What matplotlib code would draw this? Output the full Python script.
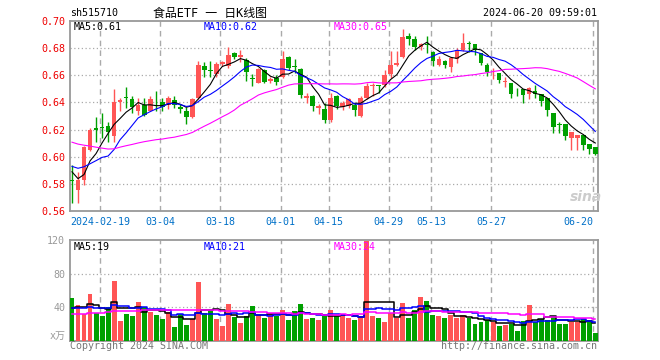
import numpy as np
import matplotlib
matplotlib.use("Agg")
import matplotlib.pyplot as plt

plt.rcParams['font.family'] = ['DejaVu Sans Mono', 'Noto Sans CJK SC']

# closes / volumes of the 29 days before the first candle, read back from the MA lines
close_before = [0.625, 0.631, 0.640, 0.644, 0.642, 0.638, 0.635, 0.605, 0.612, 0.608,
                0.606, 0.603, 0.620, 0.618, 0.623, 0.620, 0.620, 0.605, 0.600, 0.598,
                0.597, 0.596, 0.598, 0.597, 0.597, 0.608, 0.592, 0.570, 0.593]
vol_before = [25, 27, 30, 24, 26, 29, 31, 27, 25, 28, 30, 26, 27, 29, 32, 28, 26, 30, 29, 27,
              36, 40, 38, 42, 38, 33, 36, 38, 35]

opens = [0.583, 0.576, 0.583, 0.605, 0.621, 0.6215, 0.623, 0.615, 0.640, 0.6435,
         0.6427, 0.634, 0.638, 0.634, 0.6405, 0.6405, 0.638, 0.642, 0.6365, 0.634,
         0.629, 0.643, 0.6666, 0.6632, 0.661, 0.668, 0.667, 0.6766, 0.673, 0.671,
         0.658, 0.6545, 0.664, 0.6555, 0.6578, 0.659, 0.673, 0.6665, 0.6646, 0.6434,
         0.6446, 0.636, 0.6348, 0.6268, 0.6446, 0.6366, 0.6373, 0.638, 0.630, 0.6434,
         0.6519, 0.6527, 0.6531, 0.6605, 0.6678, 0.6734, 0.6885, 0.6866, 0.6805, 0.6827,
         0.6771, 0.6678, 0.6707, 0.6661, 0.6722, 0.6788, 0.6832, 0.6829, 0.6761, 0.6673,
         0.6628, 0.6617, 0.6553, 0.6544, 0.6461, 0.650, 0.6458, 0.6483, 0.6458, 0.6434,
         0.6324, 0.6236, 0.6239, 0.6141, 0.6136, 0.6161, 0.6097, 0.6075]
highs = [0.594, 0.589, 0.608, 0.621, 0.629, 0.632, 0.6256, 0.650, 0.643, 0.651,
         0.645, 0.643, 0.643, 0.645, 0.648, 0.643, 0.645, 0.645, 0.639, 0.6365,
         0.643, 0.6705, 0.670, 0.6705, 0.670, 0.6705, 0.681, 0.677, 0.6785, 0.6725,
         0.661, 0.6655, 0.6647, 0.659, 0.660, 0.6776, 0.674, 0.6722, 0.6653, 0.647,
         0.6453, 0.639, 0.6397, 0.647, 0.6453, 0.641, 0.6434, 0.6397, 0.6446, 0.6541,
         0.6544, 0.6531, 0.6641, 0.6776, 0.6776, 0.6939, 0.691, 0.6885, 0.6837, 0.6885,
         0.6776, 0.6739, 0.6715, 0.6732, 0.680, 0.691, 0.6854, 0.6829, 0.6761, 0.669,
         0.6653, 0.6617, 0.6585, 0.6544, 0.6507, 0.650, 0.6512, 0.6531, 0.6458, 0.6434,
         0.6324, 0.6258, 0.6239, 0.6185, 0.6161, 0.6161, 0.6097, 0.6075]
lows = [0.566, 0.566, 0.579, 0.604, 0.611, 0.614, 0.611, 0.611, 0.634, 0.636,
        0.6324, 0.631, 0.630, 0.6335, 0.634, 0.634, 0.635, 0.636, 0.632, 0.624,
        0.6285, 0.6425, 0.6585, 0.659, 0.659, 0.667, 0.665, 0.6717, 0.670, 0.656,
        0.652, 0.654, 0.654, 0.654, 0.653, 0.658, 0.664, 0.6617, 0.6434, 0.6397,
        0.6336, 0.6312, 0.625, 0.6258, 0.6349, 0.6341, 0.636, 0.6297, 0.6295, 0.6427,
        0.6446, 0.647, 0.6512, 0.658, 0.6666, 0.6727, 0.6824, 0.6783, 0.6788, 0.6763,
        0.6666, 0.6666, 0.6653, 0.6622, 0.669, 0.6776, 0.6768, 0.6746, 0.6673, 0.6593,
        0.6573, 0.6539, 0.6512, 0.6429, 0.6446, 0.6395, 0.6422, 0.6429, 0.6373, 0.6297,
        0.6173, 0.6178, 0.6122, 0.6048, 0.6048, 0.6048, 0.6019, 0.6012]
closes = [0.582, 0.583, 0.607, 0.620, 0.620, 0.621, 0.618, 0.640, 0.642, 0.643,
          0.6366, 0.638, 0.631, 0.6425, 0.640, 0.6366, 0.643, 0.638, 0.6355, 0.629,
          0.6425, 0.6675, 0.6641, 0.663, 0.668, 0.6695, 0.675, 0.6732, 0.675, 0.662,
          0.657, 0.6645, 0.6549, 0.6575, 0.6547, 0.672, 0.665, 0.666, 0.6451, 0.6446,
          0.6373, 0.637, 0.6268, 0.6434, 0.6373, 0.6397, 0.6422, 0.6341, 0.6434, 0.6519,
          0.6531, 0.6524, 0.660, 0.6671, 0.669, 0.688, 0.6868, 0.6807, 0.6829, 0.6824,
          0.6702, 0.6722, 0.6678, 0.6727, 0.6788, 0.6837, 0.6829, 0.6783, 0.669, 0.6622,
          0.6634, 0.6561, 0.6558, 0.6463, 0.6458, 0.6451, 0.6502, 0.6458, 0.641, 0.6341,
          0.6219, 0.6234, 0.6153, 0.6185, 0.6161, 0.6087, 0.6056, 0.6019]
volumes = [51.2, 42.4, 32.4, 56.0, 33.2, 29.2, 40.0, 71.2, 23.2, 32.0,
           29.2, 46.4, 40.0, 34.0, 30.4, 26.0, 34.0, 16.4, 31.6, 19.2,
           26.0, 69.6, 33.6, 34.8, 26.0, 18.0, 44.0, 28.8, 21.6, 30.0,
           40.8, 30.8, 27.6, 31.6, 30.0, 36.8, 24.8, 35.6, 44.0, 26.0,
           26.8, 24.8, 30.0, 36.8, 30.0, 30.0, 26.8, 24.8, 30.0, 118.8,
           30.0, 27.2, 22.8, 32.8, 27.2, 44.4, 27.2, 36.8, 51.6, 47.6,
           31.2, 30.0, 27.2, 30.8, 27.2, 31.2, 27.2, 20.4, 22.8, 24.4,
           22.8, 18.0, 19.2, 20.4, 11.6, 23.6, 42.8, 22.8, 25.6, 24.8,
           30.0, 20.4, 20.4, 22.8, 22.0, 25.6, 24.8, 9.6]

tick_pos = [5, 15, 25, 35, 43, 53, 60, 70, 87]
tick_labels = ['2024-02-19', '03-04', '03-18', '04-01', '04-15', '04-29', '05-13', '05-27', '06-20']
price_ticks = [0.56, 0.58, 0.60, 0.62, 0.64, 0.66, 0.68, 0.70]
vol_ticks = [40, 80, 120]
price_ma_text = ['MA5:0.61', 'MA10:0.62', 'MA30:0.65']
vol_ma_text = ['MA5:19', 'MA10:21', 'MA30:24']

RED = '#ff5555'
GREEN = '#00a000'
MA_COLORS = ['black', '#0000ff', '#ff00ff']
GRID = '#aaaaaa'


def moving_avg(values, before, n):
    full = np.array(before + values, dtype=float)
    out = np.convolve(full, np.ones(n) / n, mode='valid')
    return out[-len(values):]


x = np.arange(len(closes))
o = np.array(opens)
c = np.array(closes)
up = c >= o
colors = np.where(up, RED, GREEN)

fig = plt.figure(figsize=(6.6, 3.6), dpi=100)
ax1 = fig.add_axes([70 / 660, 1 - 211.3 / 360, 528 / 660, 190.6 / 360])
ax2 = fig.add_axes([70 / 660, 1 - 340.7 / 360, 528 / 660, 100.7 / 360])

# candles
ax1.vlines(x, lows, highs, colors=colors, lw=1, zorder=3)
body = np.maximum(np.abs(c - o), 0.0006)
ax1.bar(x, body, bottom=np.minimum(o, c), width=0.78, color=colors, lw=0, zorder=4)

for n, col in zip([5, 10, 30], MA_COLORS):
    ax1.plot(x, moving_avg(closes, close_before, n), color=col, lw=0.8, zorder=5)

# volume
ax2.bar(x, volumes, width=0.82, color=colors, lw=0, zorder=3)
for n, col in zip([5, 10, 30], MA_COLORS):
    ax2.plot(x, moving_avg(volumes, vol_before, n), color=col, lw=1.1,
             drawstyle='steps-mid', zorder=4)

grid_x = np.array(tick_pos) - 0.33
for ax in (ax1, ax2):
    ax.set_xlim(-0.33, 87.45)
    for gx in grid_x:
        ax.axvline(gx, color=GRID, lw=1, ls=(0, (4, 3)), zorder=1)
    for s in ax.spines.values():
        s.set_color('#999999')
        s.set_linewidth(1.3)
    ax.tick_params(length=0)

ax1.set_ylim(0.56, 0.70)
ax1.set_yticks(price_ticks)
ax1.set_yticklabels(['%.2f' % v for v in price_ticks], color='#ee0000', fontsize=7.2)
for v in price_ticks[1:-1]:
    ax1.axhline(v, color=GRID, lw=0.9, ls=(0, (1, 2)), zorder=1)
ax1.set_xticks(grid_x)
ax1.set_xticklabels(tick_labels, color='#0070c8', fontsize=7.2)
ax1.tick_params(axis='x', pad=4)
ax1.get_xticklabels()[-1].set_ha('right')

ax2.set_ylim(0, 120)
ax2.set_yticks([0] + vol_ticks)
ax2.set_yticklabels(['x万'] + [str(v) for v in vol_ticks], color='#999999', fontsize=7.2)
ax2.get_yticklabels()[0].set_va('bottom')
for v in vol_ticks[:-1]:
    ax2.axhline(v, color=GRID, lw=0.9, ls=(0, (1, 2)), zorder=1)
ax2.set_xticks([])

# labels
for txt, col, px in zip(price_ma_text, MA_COLORS, [74, 204, 334]):
    fig.text(px / 660, 1 - 27 / 360, txt, color=col, fontsize=7.2, va='center')
for txt, col, px in zip(vol_ma_text, MA_COLORS, [74, 204, 334]):
    fig.text(px / 660, 1 - 247 / 360, txt, color=col, fontsize=7.2, va='center')

fig.text(70 / 660, 1 - 13 / 360, 'sh515710', fontsize=7.2, va='center')
fig.text(210 / 660, 1 - 13 / 360, '食品ETF 一 日K线图', fontsize=8.6, va='center', ha='center')
fig.text(597 / 660, 1 - 13 / 360, '2024-06-20 09:59:01', fontsize=7.2, va='center', ha='right')
fig.text(70 / 660, 1 - 346 / 360, 'Copyright 2024 SINA.COM', fontsize=7.2, va='center', color='#777777')
fig.text(597 / 660, 1 - 346 / 360, 'http://finance.sina.com.cn', fontsize=7.2, va='center',
         ha='right', color='#777777')
fig.text(586 / 660, 1 - 197 / 360, 'sina', fontsize=10, fontweight='bold', style='italic',
         color='#cccccc', ha='center', va='center', family='DejaVu Sans')

fig.savefig('out.png', dpi=100)
